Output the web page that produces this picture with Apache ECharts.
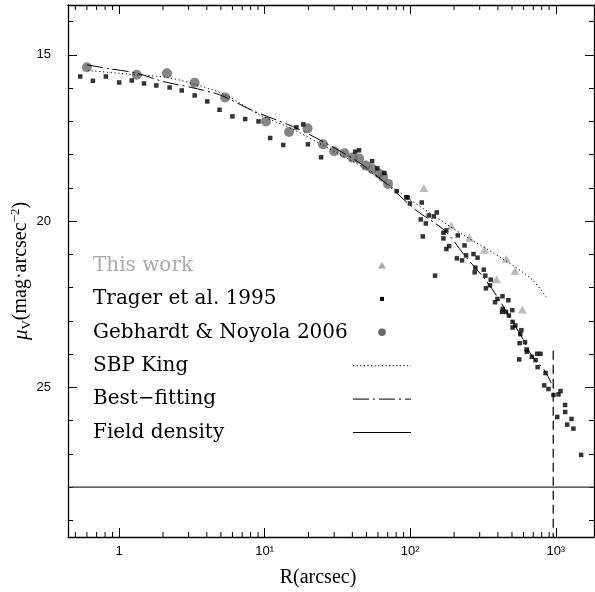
<!DOCTYPE html>
<html><head><meta charset="utf-8">
<script src="https://cdn.jsdelivr.net/npm/echarts@6/dist/echarts.min.js"></script>
<style>html,body{margin:0;padding:0;background:#fff}#c{width:595px;height:592px}</style>
</head><body><div id="c"></div>
<script>
// ---- data: [R (arcsec), mu_V] ----
const thisWork = [[124,19.0],[191,20.13],[256,20.5],[323,20.86],[391,21.75],[457,21.13],[524,21.5],[589,22.66]];
const trager = [[0.54,15.65],[0.66,15.78],[0.81,15.65],[1.0,15.83],[1.22,15.77],[1.48,15.86],[1.80,15.92],[2.22,15.98],[2.69,16.07],[3.30,16.22],[4.03,16.40],[4.89,16.65],[6.0,16.85],[7.34,16.93],[9.06,17.0],[10.9,17.5],[13.4,17.71],[16.5,17.18],[18.4,17.09],[19.8,17.69],[24.4,18.08],[41.8,17.91],[44.5,17.87],[54.7,18.2],[59.4,18.41],[66.4,18.55],[80.7,19.1],[94,19.28],[96,19.29],[99.5,19.47],[118,19.95],[120,19.44],[122,20.46],[128,20.07],[134,19.83],[145,19.86],[148,21.64],[152,19.74],[169,20.35],[169,20.52],[177,20.28],[177,20.84],[185,20.75],[209,21.12],[212,20.43],[227,21.18],[236,20.73],[242,21.03],[272,20.99],[277,21.54],[280,21.4],[290,21.1],[320,21.46],[328,21.64],[331,22.02],[353,21.93],[357,21.76],[382,22.44],[397,22.34],[427,22.73],[430,22.26],[432,22.64],[455,22.73],[472,22.38],[476,22.84],[503,22.68],[505,23.03],[505,23.2],[527,23.14],[561,24.16],[564,23.67],[570,23.4],[580,23.28],[614,23.64],[630,23.86],[632,23.93],[685,24.08],[726,24.18],[745,23.99],[750,24.39],[785,23.99],[832,24.94],[850,24.57],[891,25.05],[964,25.23],[1023,25.89],[1044,25.21],[1077,25.11],[1158,25.53],[1160,25.74],[1197,26.12],[1282,25.95],[1321,26.24],[1493,27.03]];
const gebhardt = [[0.60,15.37],[1.32,15.60],[2.13,15.55],[3.30,15.84],[5.35,16.28],[10.2,17.0],[14.7,17.32],[19.7,17.21],[25.1,17.69],[30.0,17.90],[35.3,17.96],[40.1,18.09],[44.5,18.12],[49.5,18.33],[55,18.43],[61,18.57],[65,18.67],[70.3,18.88]];
const kingR  = [0.61,1.32,2.13,3.3,5.35,9.2,15.5,24,40,50,79,141,238,406,688,880];
const kingMu = [15.47,15.6,15.68,15.88,16.2,16.8,17.23,17.67,18.2,18.45,19.05,19.8,20.45,21.06,21.76,22.36];
const fitR  = [0.6,0.87,1.32,2.0,3.13,4.9,8.3,15.5,23.7,43.2,67.5,108,174,239,328,407,586,686,843,984];
const fitMu = [15.3,15.42,15.55,15.8,15.98,16.2,16.68,17.15,17.55,18.2,18.85,19.65,20.3,21.06,21.76,22.36,23.5,24.06,24.51,25.11];
const fieldDensity = 28.0;
const tidalR = 960, tidalTop = 23.9;
const xRange = [0.445, 1830];
const yRange = [13.5, 29.5];
const yMajor = [15, 20, 25];
const xMinor = [0.5,0.6,0.7,0.8,0.9, 2,3,4,5,6,7,8,9, 20,30,40,50,60,70,80,90, 200,300,400,500,600,700,800,900];
const legendItems = ['This work', 'Trager et al. 1995', 'Gebhardt & Noyola 2006', 'SBP King', 'Best\u2212fitting', 'Field density'];

// ---- derived ----
const yMinor = [];
for (let v = Math.ceil(yRange[0]); v <= yRange[1]; v++) if (yMajor.indexOf(v) < 0) yMinor.push(v);
const sup = {1:'\u00b9',2:'\u00b2',3:'\u00b3'};
const zip = (a, b) => a.map((v, i) => [v, b[i]]);

const chart = echarts.init(document.getElementById('c'), null, {renderer: 'canvas'});
const lineCol = '#000';
function xLog(pos, labels) {
  return {type: 'log', logBase: 10, min: xRange[0], max: xRange[1], position: pos,
    axisLine: {show: true, onZero: false, lineStyle: {color: '#000', width: 1.3}}, splitLine: {show: false},
    axisTick: {show: true, inside: true, length: 9, lineStyle: {color: '#000', width: 1}},
    axisLabel: labels ? {show: true, margin: 8, color: '#000', fontFamily: 'Liberation Sans', fontSize: 13,
      showMinLabel: false, showMaxLabel: false,
      formatter: v => { const l = Math.log10(v), e = Math.round(l);
        if (Math.abs(l - e) > 1e-6) return ''; return e === 0 ? '1' : '10' + sup[e]; }} : {show: false}};
}
function yAx(pos, major, labels, name) {
  const o = {type: 'value', inverse: true, min: yRange[0], max: yRange[1], position: pos,
    axisLine: major ? {show: true, onZero: false, lineStyle: {color: '#000', width: 1.3}} : {show: false, onZero: false}, splitLine: {show: false},
    axisTick: {show: true, inside: true, length: major ? 9 : 5, customValues: major ? yMajor : yMinor, lineStyle: {color: '#000', width: 1}},
    axisLabel: labels ? {show: true, customValues: yMajor, margin: 17, color: '#000', fontFamily: 'Liberation Sans', fontSize: 13} : {show: false}};
  if (name) {
    o.name = '{m|\u03bc}{s|V}{t|(mag\u00b7arcsec}{p|\u22122}{t|)}';
    o.nameLocation = 'middle'; o.nameRotate = 90; o.nameGap = 35; o.nameMoveOverlap = false;
    o.nameTextStyle = {rich: {
      m: {fontFamily: 'Liberation Serif', fontStyle: 'italic', fontSize: 21, color: '#000', lineHeight: 24},
      s: {fontFamily: 'Liberation Serif', fontSize: 13, color: '#000', verticalAlign: 'bottom', lineHeight: 14},
      t: {fontFamily: 'Liberation Serif', fontSize: 20, color: '#000', lineHeight: 24},
      p: {fontFamily: 'Liberation Serif', fontSize: 13, color: '#000', verticalAlign: 'top', lineHeight: 14}}};
  }
  return o;
}

// legend as graphic
const lx = 93, ly0 = 265.5, ldy = 33.4, iconX = 382, lineX0 = 353, lineX1 = 411;
const legendGraphics = [];
legendItems.forEach((t, i) => {
  const y = ly0 + i * ldy;
  legendGraphics.push({type: 'text', x: lx, y: y, style: {text: t, font: '20px "DejaVu Serif"', textVerticalAlign: 'middle', fill: i === 0 ? '#aaaaaa' : '#000'}});
});
legendGraphics.push({type: 'polygon', shape: {points: [[iconX, ly0 - 3.5], [iconX - 4, ly0 + 3], [iconX + 4, ly0 + 3]]}, style: {fill: '#aaaaaa'}});
legendGraphics.push({type: 'rect', shape: {x: iconX - 2, y: ly0 + ldy - 2, width: 4, height: 4}, style: {fill: '#000'}});
legendGraphics.push({type: 'circle', shape: {cx: iconX, cy: ly0 + 2 * ldy, r: 3.8}, style: {fill: '#666'}});
legendGraphics.push({type: 'line', shape: {x1: lineX0, y1: ly0 + 3 * ldy, x2: lineX1, y2: ly0 + 3 * ldy}, style: {stroke: '#000', lineWidth: 1, lineDash: [1.2, 2.4]}});
legendGraphics.push({type: 'line', shape: {x1: lineX0, y1: ly0 + 4 * ldy, x2: lineX1, y2: ly0 + 4 * ldy}, style: {stroke: '#000', lineWidth: 1, lineDash: [16, 4, 2, 4]}});
legendGraphics.push({type: 'line', shape: {x1: lineX0, y1: ly0 + 5 * ldy, x2: lineX1, y2: ly0 + 5 * ldy}, style: {stroke: '#000', lineWidth: 1}});

chart.setOption({
  animation: false,
  backgroundColor: '#fff',
  grid: {left: 68, right: 1, top: 5, bottom: 55, containLabel: false, outerBoundsMode: 'none'},
  xAxis: [xLog('bottom', true), xLog('top', false)],
  yAxis: [yAx('left', true, true, true), yAx('left', false, false), yAx('right', true, false), yAx('right', false, false)],
  graphic: [
    {type: 'text', x: 318, y: 578, style: {text: 'R(arcsec)', font: '20px "Liberation Serif"', fill: '#000', textAlign: 'center', textVerticalAlign: 'middle'}}
  ].concat(legendGraphics),
  series: [
    {name: 'Gebhardt & Noyola 2006', type: 'scatter', data: gebhardt, symbol: 'circle', symbolSize: 10, itemStyle: {color: '#666'}, z: 2},
    {name: 'This work', type: 'scatter', data: thisWork, symbol: 'triangle', symbolSize: [9, 8], itemStyle: {color: '#aaaaaa'}, z: 3},
    {name: 'Trager et al. 1995', type: 'scatter', data: trager, symbol: 'rect', symbolSize: 4.5, itemStyle: {color: '#000'}, z: 4},
    {name: 'SBP King', type: 'line', data: zip(kingR, kingMu), smooth: 0.3, showSymbol: false, lineStyle: {color: lineCol, width: 1, type: [1.2, 2.6]}, z: 5},
    {name: 'Best-fitting', type: 'line', data: zip(fitR, fitMu), smooth: 0.3, showSymbol: false, lineStyle: {color: lineCol, width: 1, type: [16, 4, 2, 4]}, z: 5},
    {name: 'Field density', type: 'line', data: [[xRange[0], fieldDensity], [xRange[1], fieldDensity]], showSymbol: false, lineStyle: {color: '#333', width: 1.2}, z: 5},
    {name: 'tidal', type: 'line', data: [[tidalR, tidalTop], [tidalR, yRange[1]]], showSymbol: false, lineStyle: {color: '#000', width: 1.2, type: [9, 5]}, z: 5},
    {name: 'minor x ticks', type: 'custom', clip: false, silent: true, z: 6,
     encode: {x: 0, y: 1},
     data: xMinor.map(v => [v, yRange[1]]),
     renderItem: (params, api) => {
       const b = api.coord([api.value(0), yRange[1]]);
       const t = api.coord([api.value(0), yRange[0]]);
       const st = {stroke: '#000', lineWidth: 1};
       return {type: 'group', children: [
         {type: 'line', shape: {x1: b[0], y1: b[1], x2: b[0], y2: b[1] - 5}, style: st},
         {type: 'line', shape: {x1: t[0], y1: t[1], x2: t[0], y2: t[1] + 5}, style: st}
       ]};
     }}
  ]
});
</script></body></html>
